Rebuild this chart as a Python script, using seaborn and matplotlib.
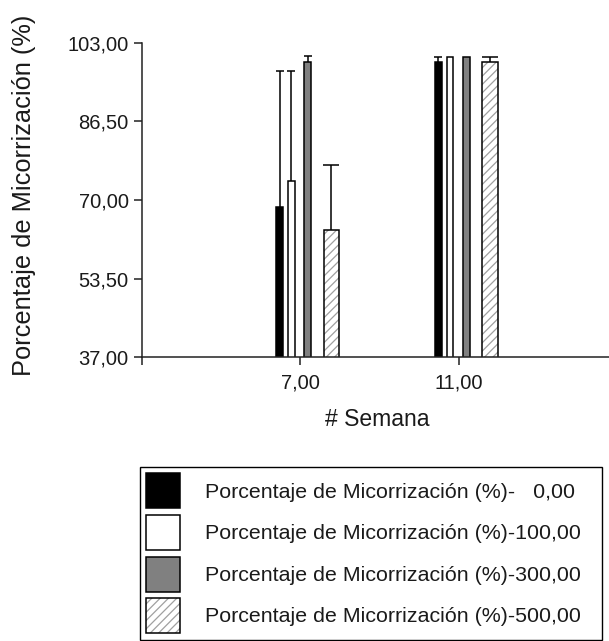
import numpy as np
import pandas as pd
import matplotlib
matplotlib.use("Agg")
import matplotlib.pyplot as plt
import seaborn as sns
from matplotlib.patches import Patch
from matplotlib.colors import to_rgba
from matplotlib.container import BarContainer

# ---------------- data ----------------
semanas = [7, 11]
dosis = ["0,00", "100,00", "300,00", "500,00"]
media_0 = [68.5, 99.0]
media_100 = [73.9, 100.0]
media_300 = [99.0, 100.0]
media_500 = [63.8, 99.0]
tope_0 = [97.1, 100.0]
tope_100 = [97.1, 100.0]
tope_300 = [100.3, 100.0]
tope_500 = [77.4, 100.0]
yticks = [37.0, 53.5, 70.0, 86.5, 103.0]
etiquetas_leyenda = [
    "Porcentaje de Micorrización (%)-   0,00",
    "Porcentaje de Micorrización (%)-100,00",
    "Porcentaje de Micorrización (%)-300,00",
    "Porcentaje de Micorrización (%)-500,00",
]
ylabel = "Porcentaje de Micorrización (%)"
xlabel = "# Semana"

medias = [media_0, media_100, media_300, media_500]
topes = [tope_0, tope_100, tope_300, tope_500]
df = pd.DataFrame({
    "semana": semanas * len(dosis),
    "dosis": [d for d in dosis for _ in semanas],
    "media": [v for serie in medias for v in serie],
})

# ---------------- style ----------------
sns.set_theme(style="ticks")
plt.rcParams["font.family"] = ["Liberation Sans", "DejaVu Sans"]
plt.rcParams["hatch.linewidth"] = 0.9

colores = ["black", "white", "#808080", "white"]
hatches = [None, None, None, "////"]
hatch_gris = to_rgba("#a0a0a0")
# bar layout (offset from week tick, width) in data units
offsets = [-0.515, -0.222, 0.186, 0.785]
anchos = [0.175, 0.165, 0.17, 0.39]
px_por_unidad = 39.65

fig = plt.figure(figsize=(6.09, 6.41), dpi=100)
ax = fig.add_axes([0.2327, 0.4426, 0.7673, 0.4908])

sns.barplot(data=df, x="semana", y="media", hue="dosis", hue_order=dosis,
            palette=colores, native_scale=True, errorbar=None, legend=False,
            edgecolor="black", linewidth=1.1, saturation=1, ax=ax)

bar_containers = [c for c in ax.containers if isinstance(c, BarContainer)]
for i, cont in enumerate(bar_containers):
    for bar in cont.patches:
        cx = bar.get_x() + bar.get_width() / 2
        j = int(np.argmin([abs(cx - s) for s in semanas]))
        s = semanas[j]
        bar.set_width(anchos[i])
        bar.set_x(s + offsets[i] - anchos[i] / 2)
        bar.set_facecolor(colores[i])
        bar.set_edgecolor("black")
        if hatches[i]:
            bar.set_hatch(hatches[i])
            bar._hatch_color = hatch_gris
        h = bar.get_height()
        err = topes[i][j] - h
        if err > 0.05:
            eb = ax.errorbar(s + offsets[i], h, yerr=[[0], [err]], fmt="none",
                             ecolor="black", elinewidth=1.1,
                             capsize=(anchos[i] * px_por_unidad + 1.5) / 2 * 0.72,
                             capthick=1.1, zorder=3)
            caps = eb[1]
            if len(caps) == 2:
                caps[0].set_visible(False)

ax.set_xlim(3, 14.79)
ax.set_ylim(37, 103)
ax.set_yticks(yticks)
ax.set_yticklabels([f"{v:.2f}".replace(".", ",") for v in yticks])
ax.set_xticks(semanas)
ax.set_xticklabels([f"{v:.2f}".replace(".", ",") for v in semanas])
ax.set_xticks([3], minor=True)
ax.tick_params(axis="both", which="both", direction="out", length=6,
               width=1.1, color="#222222", labelsize=14.5, labelcolor="#1a1a1a")
ax.tick_params(axis="y", pad=3.5)
ax.tick_params(axis="x", pad=6)
ax.set_xlabel("")
ax.set_ylabel("")
for side in ["top", "right"]:
    ax.spines[side].set_visible(False)
for side in ["left", "bottom"]:
    ax.spines[side].set_linewidth(1.1)
    ax.spines[side].set_color("#222222")

fig.text(24 / 609, 1 - 195 / 641, ylabel, rotation=90, ha="center", va="center",
         fontsize=18.3, color="#1a1a1a")
fig.text(377 / 609, 1 - 419 / 641, xlabel, ha="center", va="center",
         fontsize=16.5, color="#1a1a1a")

handles = []
for i in range(4):
    p = Patch(facecolor=colores[i], edgecolor="black", linewidth=1.1,
              hatch=hatches[i])
    if hatches[i]:
        p._hatch_color = hatch_gris
    handles.append(p)

leg = fig.legend(handles, etiquetas_leyenda, loc="upper left",
                 bbox_to_anchor=(140 / 609, 1 - 467 / 641, 462 / 609, 0.0),
                 mode="expand", borderaxespad=0, fontsize=15.4,
                 handlelength=1.59, handleheight=2.14, labelspacing=0.31,
                 handletextpad=1.17, borderpad=0.3, fancybox=False,
                 frameon=True, framealpha=1, edgecolor="black")
leg.get_frame().set_linewidth(1.0)
for p in leg.get_patches():
    if p.get_hatch():
        p._hatch_color = hatch_gris
for t in leg.get_texts():
    t.set_color("#1a1a1a")

fig.savefig("out.png", dpi=100, facecolor="white")
